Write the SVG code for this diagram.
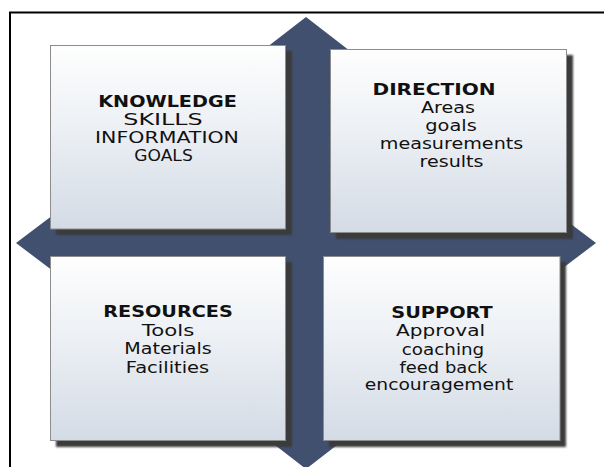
<svg xmlns="http://www.w3.org/2000/svg" width="604" height="467" viewBox="0 0 604 467">
  <defs>
    <linearGradient id="boxFill" x1="0" y1="0" x2="0" y2="1">
      <stop offset="0" stop-color="#fefefe"/>
      <stop offset="0.5" stop-color="#eaeef3"/>
      <stop offset="1" stop-color="#d3dbe5"/>
    </linearGradient>
    <filter id="soft" x="-10%" y="-10%" width="120%" height="120%">
      <feGaussianBlur stdDeviation="1.3"/>
    </filter>
  </defs>
  <style>
    .frame { fill: none; stroke: #000; stroke-width: 2; }
    .cross { fill: #40506e; }
    .shadow { fill: #3a3a3a; filter: url(#soft); }
    .box { fill: url(#boxFill); stroke: #8c8c8c; stroke-width: 1; }
    text { font-family: "DejaVu Sans", Verdana, sans-serif; font-size: 15.8px; fill: #111; text-anchor: middle; }
    .title { font-weight: bold; font-size: 16px; }
  </style>

  <rect width="604" height="467" fill="#fff"/>
  <path class="frame" d="M10,467 V12.5 H604"/>

  <!-- four-way arrow behind the quadrants -->
  <g id="connectors">
    <polygon class="cross" points="306,17 350,51 332,51 332,223 551,223 551,209 596,243 551,277 551,263 332,263 332,435 350,435 306,469 262,435 280,435 280,263 61,263 61,277 16,243 61,209 61,223 280,223 280,51 262,51"/>
  </g>

  <g id="knowledge">
    <rect class="shadow" x="56" y="51" width="236" height="184"/>
    <rect class="box" x="50.5" y="45.5" width="235" height="183.5"/>
    <text class="title" x="167.5" y="106.5" textLength="138.5" lengthAdjust="spacingAndGlyphs">KNOWLEDGE</text>
    <text x="163" y="124.5" textLength="79.5" lengthAdjust="spacingAndGlyphs">SKILLS</text>
    <text x="167" y="142.5" textLength="144" lengthAdjust="spacingAndGlyphs">INFORMATION</text>
    <text x="163.5" y="160.5" textLength="58.5" lengthAdjust="spacingAndGlyphs">GOALS</text>
  </g>

  <g id="direction">
    <rect class="shadow" x="336" y="55" width="237" height="184"/>
    <rect class="box" x="330.5" y="49.5" width="236" height="183"/>
    <text class="title" x="434" y="94.5" textLength="123" lengthAdjust="spacingAndGlyphs">DIRECTION</text>
    <text x="448" y="112.5" textLength="54" lengthAdjust="spacingAndGlyphs">Areas</text>
    <text x="451" y="130.5" textLength="51.5" lengthAdjust="spacingAndGlyphs">goals</text>
    <text x="451.5" y="148.5" textLength="143.5" lengthAdjust="spacingAndGlyphs">measurements</text>
    <text x="451.5" y="166.5" textLength="64" lengthAdjust="spacingAndGlyphs">results</text>
  </g>

  <g id="resources">
    <rect class="shadow" x="56" y="262" width="236" height="185"/>
    <rect class="box" x="50.5" y="256.5" width="235" height="184"/>
    <text class="title" x="168" y="316.5" textLength="129.5" lengthAdjust="spacingAndGlyphs">RESOURCES</text>
    <text x="168" y="335.5" textLength="52.5" lengthAdjust="spacingAndGlyphs">Tools</text>
    <text x="168" y="354" textLength="87.5" lengthAdjust="spacingAndGlyphs">Materials</text>
    <text x="167.5" y="372.5" textLength="83.5" lengthAdjust="spacingAndGlyphs">Facilities</text>
  </g>

  <g id="support">
    <rect class="shadow" x="329" y="262" width="237" height="185"/>
    <rect class="box" x="323.5" y="256.5" width="236.5" height="184"/>
    <text class="title" x="442" y="317.5" textLength="101.5" lengthAdjust="spacingAndGlyphs">SUPPORT</text>
    <text x="440.5" y="336" textLength="89" lengthAdjust="spacingAndGlyphs">Approval</text>
    <text x="443" y="354.5" textLength="82.5" lengthAdjust="spacingAndGlyphs">coaching</text>
    <text x="443.5" y="372.5" textLength="88" lengthAdjust="spacingAndGlyphs">feed back</text>
    <text x="439" y="390" textLength="148.5" lengthAdjust="spacingAndGlyphs">encouragement</text>
  </g>
</svg>
